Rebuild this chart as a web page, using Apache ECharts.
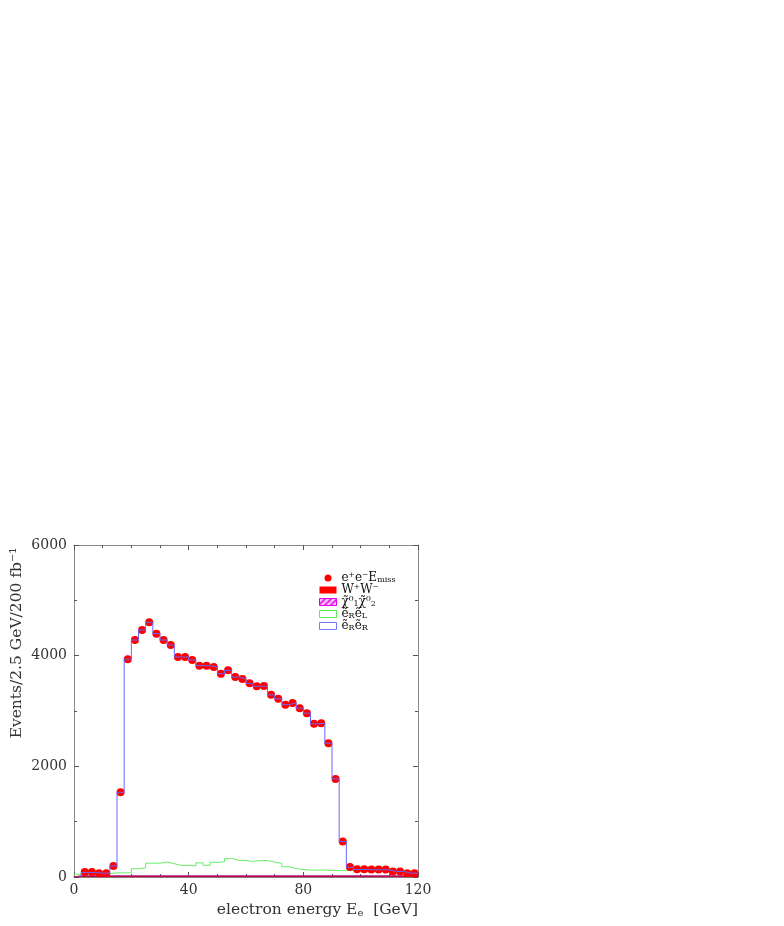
<!DOCTYPE html>
<html>
<head>
<meta charset="utf-8">
<script src="https://cdn.jsdelivr.net/npm/echarts@6/dist/echarts.min.js"></script>
<style>html,body{margin:0;padding:0;background:#fff}#c{width:784px;height:926px}</style>
</head>
<body>
<div id="c"></div>
<script>
// ---- data (48 bins of 2.5 GeV from 0 to 120) ----
const binWidth = 2.5;
const xTicks = [0, 40, 80, 120];
const yTicks = [0, 2000, 4000, 6000];
// e+e- -> e + missing energy (points)
const dataPoints = [null, 90, 90, 70, 70, 200, 1530, 3935, 4283, 4464, 4603, 4398, 4283, 4193, 3976, 3976, 3922, 3819, 3819, 3795, 3674, 3735, 3615, 3579, 3500, 3446, 3450, 3292, 3220, 3115, 3145, 3051, 2961, 2768, 2780, 2418, 1772, 640, 182, 140, 140, 135, 135, 135, 100, 100, 70, 70];
// eR eR (blue histogram)
const eReR = [null, 80, 80, 70, 70, 200, 1530, 3935, 4283, 4464, 4603, 4398, 4283, 4193, 3976, 3976, 3922, 3819, 3819, 3795, 3674, 3735, 3615, 3579, 3500, 3446, 3450, 3292, 3220, 3115, 3145, 3051, 2961, 2768, 2780, 2418, 1772, 640, 175, 135, 135, 130, 130, 130, 100, 100, 70, 70];
// eR eL (green histogram)
const eReL = [50, 55, 55, 55, 60, 75, 75, 75, 150, 165, 250, 250, 270, 240, 210, 210, 200, 255, 212, 265, 275, 333, 300, 300, 280, 297, 297, 270, 245, 185, 150, 135, 125, 125, 125, 120, 115, 115, 120, 110, 110, 110, 110, 110, 110, 110, 105, 105];
// chi1 chi2 (magenta)
const chiChi = [20, 20, 20, 20, 20, 20, 22, 22, 22, 22, 22, 22, 22, 22, 22, 22, 22, 22, 22, 22, 22, 22, 22, 22, 22, 22, 22, 22, 22, 22, 20, 20, 20, 20, 20, 20, 20, 20, 20, 20, 20, 20, 20, 20, 20, 20, 20, 20];
// W+W- (red)
const wPwM = [8, 8, 8, 8, 8, 8, 8, 8, 8, 8, 8, 8, 8, 8, 8, 8, 8, 8, 8, 8, 8, 8, 8, 8, 8, 8, 8, 8, 8, 8, 8, 8, 8, 8, 8, 8, 8, 8, 8, 8, 8, 8, 8, 8, 8, 8, 8, 8];

function histo(vals) {
  const out = [];
  let started = false, last = null;
  vals.forEach((v, i) => {
    if (v == null) return;
    const lo = i * binWidth;
    if (!started) { out.push([lo, 0]); started = true; }
    out.push([lo, v]);
    last = v;
  });
  out.push([vals.length * binWidth, last]);
  return out;
}
function centers(vals) {
  return vals.map((v, i) => v == null ? null : [i * binWidth + binWidth / 2, v]).filter(p => p);
}

// hatch pattern for chi chi legend
const hc = document.createElement('canvas');
hc.width = 6; hc.height = 6;
const hx = hc.getContext('2d');
hx.fillStyle = '#ffd0ff'; hx.fillRect(0, 0, 6, 6);
hx.strokeStyle = '#e000e0'; hx.lineWidth = 1.6;
hx.beginPath(); hx.moveTo(-1, 7); hx.lineTo(7, -1); hx.moveTo(-4, 4); hx.lineTo(4, -4); hx.moveTo(2, 10); hx.lineTo(10, 2); hx.stroke();

const serif = 'DejaVu Serif';
const chart = echarts.init(document.getElementById('c'), null, {renderer: 'canvas'});
const axisCommon = {
  min: 0,
  axisLine: {show: true, onZero: false, lineStyle: {color: '#888', width: 1}},
  axisTick: {show: true, inside: true, length: 5, lineStyle: {color: '#555'}},
  splitLine: {show: false}
};
const legendText = {
  data: '{n|e⁺e⁻E}{s|miss}',
  WW: '{n|W⁺W⁻}',
  chichi: '{n|χ̃⁰}{s|1}{n|χ̃⁰}{s|2}',
  eReL: '{n|ẽ}{s|R}{n|ẽ}{s|L}',
  eReR: '{n|ẽ}{s|R}{n|ẽ}{s|R}'
};
chart.setOption({
  animation: false,
  backgroundColor: '#fff',
  grid: {left: 74, right: 366, top: 545, bottom: 49},
  xAxis: [
    Object.assign({}, axisCommon, {
      type: 'value', max: 120, interval: 40, position: 'bottom',
      minorTick: {show: true, splitNumber: 4, length: 3, lineStyle: {color: '#555'}},
      axisLabel: {color: '#333', fontFamily: serif, fontSize: 14, margin: 6,
        formatter: v => xTicks.includes(v) ? String(v) : ''},
      name: '{a|electron energy E}{s|e}{a|  [GeV]}',
      nameLocation: 'end', nameGap: 0,
      nameTextStyle: {align: 'right', verticalAlign: 'top', padding: [24, 0, 0, 0],
        rich: {a: {fontFamily: serif, fontSize: 15.5, color: '#333'}, s: {fontFamily: serif, fontSize: 10, color: '#333', padding: [7, 0, 0, 0]}}}
    }),
    Object.assign({}, axisCommon, {
      type: 'value', max: 120, interval: 40, position: 'top',
      minorTick: {show: true, splitNumber: 4, length: 3, lineStyle: {color: '#555'}},
      axisLabel: {show: false}
    })
  ],
  yAxis: [
    Object.assign({}, axisCommon, {
      type: 'value', max: 6000, interval: 2000, position: 'left',
      minorTick: {show: true, splitNumber: 2, length: 3, lineStyle: {color: '#555'}},
      axisLabel: {color: '#333', fontFamily: serif, fontSize: 14, margin: 7,
        formatter: v => yTicks.includes(v) ? String(v) : ''}
    }),
    Object.assign({}, axisCommon, {
      type: 'value', max: 6000, interval: 2000, position: 'right',
      minorTick: {show: true, splitNumber: 2, length: 3, lineStyle: {color: '#555'}},
      axisLabel: {show: false}
    })
  ],
  legend: {
    orient: 'vertical', left: 314, top: 567, itemWidth: 17, itemHeight: 7, itemGap: 0,
    selectedMode: false,
    data: [
      {name: 'data', icon: 'circle', itemStyle: {color: '#ff0000'}},
      {name: 'WW', icon: 'rect', itemStyle: {color: '#ff0000', borderWidth: 0}},
      {name: 'chichi', icon: 'rect', itemStyle: {color: {image: hc, repeat: 'repeat'}, borderColor: '#e000e0', borderWidth: 1}},
      {name: 'eReL', icon: 'rect', itemStyle: {color: '#ffffff', borderColor: '#55ee55', borderWidth: 1}},
      {name: 'eReR', icon: 'rect', itemStyle: {color: '#ffffff', borderColor: '#7777ff', borderWidth: 1}}
    ],
    formatter: n => legendText[n],
    textStyle: {lineHeight: 11.6, rich: {
      n: {fontFamily: serif, fontSize: 12, color: '#111', lineHeight: 11.6},
      s: {fontFamily: serif, fontSize: 8, color: '#111', lineHeight: 11.6, verticalAlign: 'bottom'}
    }}
  },
  graphic: [{
    type: 'text', x: 17, y: 643, rotation: Math.PI / 2,
    style: {text: 'Events/2.5 GeV/200 fb⁻¹', font: '15.5px "DejaVu Serif"', fill: '#333', align: 'center', verticalAlign: 'middle'}
  }],
  series: [
    {name: 'eReL', type: 'line', step: 'end', data: histo(eReL), showSymbol: false, z: 3,
      lineStyle: {color: '#66ee66', width: 1}, itemStyle: {color: '#66ee66'}},
    {name: 'WW', type: 'line', step: 'end', data: histo(wPwM), showSymbol: false, z: 4,
      lineStyle: {color: '#cc0000', width: 1.2}, itemStyle: {color: '#ff0000'}},
    {name: 'chichi', type: 'line', step: 'end', data: histo(chiChi), showSymbol: false, z: 4,
      lineStyle: {color: '#b01090', width: 1.2}, itemStyle: {color: '#b01090'}},
    {name: 'data', type: 'scatter', data: centers(dataPoints), symbol: 'circle', symbolSize: 8, z: 5,
      itemStyle: {color: '#ff0000', opacity: 1}},
    {name: 'eReR', type: 'line', step: 'end', data: histo(eReR), showSymbol: false, z: 6,
      lineStyle: {color: '#6666ff', width: 1}, itemStyle: {color: '#6666ff'}}
  ]
});
</script>
</body>
</html>
